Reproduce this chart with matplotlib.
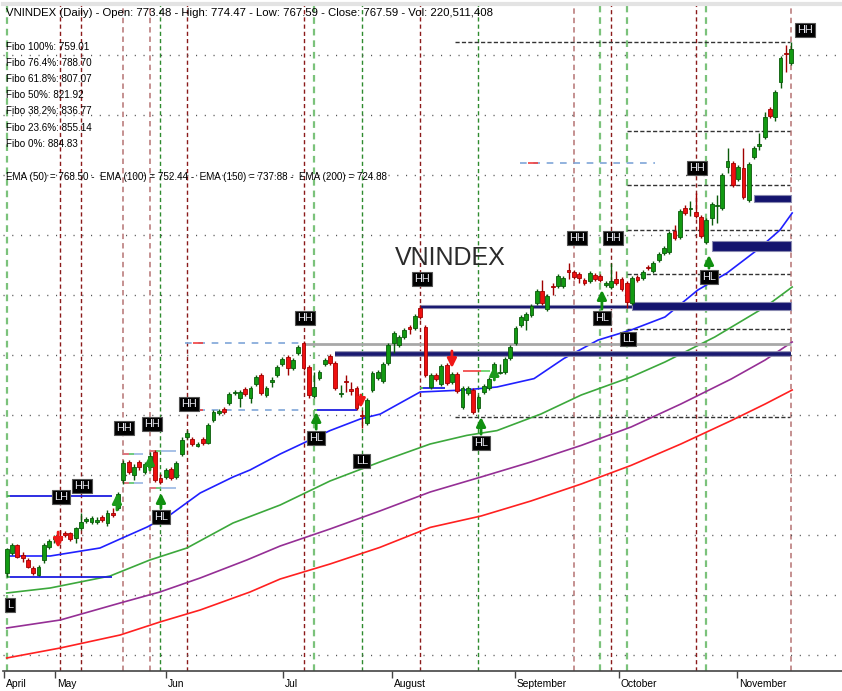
import matplotlib
matplotlib.use("Agg")
import matplotlib.pyplot as plt
from matplotlib import font_manager
from matplotlib.patches import Rectangle
from matplotlib.transforms import ScaledTranslation
import numpy as np

# daily candles (index points)
opens = [715.5, 720.5, 722.5, 720.0, 718.75, 716.75, 715.0, 718.75, 722.0, 724.0,
         724.75, 725.5, 725.5, 724.25, 726.75, 728.5, 728.25, 728.25, 729.5, 728.0,
         730.5, 731.75, 738.75, 743.25, 740.0, 743.25, 740.75, 742.0, 745.75, 739.25,
         739.5, 741.5, 739.5, 745.25, 749.5, 749.0, 747.25, 749.0, 748.0, 753.75,
         755.5, 756.5, 758.0, 760.5, 759.25, 761.5, 759.25, 762.75, 765.0, 760.0,
         763.25, 765.0, 767.75, 769.5, 766.75, 770.5, 773.0, 767.0, 759.75, 764.25,
         767.75, 769.75, 768.0, 760.25, 763.5, 761.5, 761.75, 755.0, 753.0, 761.25,
         764.25, 763.5, 768.0, 773.0, 772.5, 774.5, 777.0, 776.75, 781.75, 777.0,
         762.0, 765.0, 762.75, 767.5, 763.25, 765.25, 757.0, 760.5, 761.25, 756.75,
         760.75, 761.75, 764.5, 765.5, 765.75, 769.25, 773.0, 777.5, 778.75, 780.0,
         783.0, 786.0, 781.5, 787.25, 787.25, 787.25, 791.25, 790.75, 790.25, 788.75,
         788.5, 790.0, 789.75, 787.5, 787.0, 789.0, 789.0, 788.0, 783.0, 789.5,
         789.25, 792.0, 791.0, 793.75, 795.5, 795.75, 801.0, 799.5, 806.75, 806.5,
         805.75, 804.5, 798.25, 804.25, 807.25, 806.75, 817.0, 818.0, 814.0, 816.75,
         808.75, 819.5, 822.25, 824.5, 831.5, 829.5, 838.25, 845.5, 843.0]
highs = [721.75, 723.0, 722.75, 720.75, 719.25, 717.25, 717.5, 723.0, 724.0, 725.0,
         726.25, 726.0, 725.75, 727.0, 730.5, 729.5, 729.75, 729.5, 730.0, 731.25,
         731.75, 735.75, 743.75, 743.75, 742.75, 743.75, 743.25, 745.75, 746.25, 740.25,
         741.75, 742.0, 743.5, 749.5, 751.25, 749.5, 748.25, 749.5, 753.0, 756.25,
         756.5, 757.0, 760.75, 761.25, 761.25, 762.0, 762.25, 765.0, 765.5, 762.25,
         764.5, 767.5, 769.5, 770.0, 769.25, 772.5, 773.5, 767.5, 765.75, 766.25,
         769.25, 770.25, 768.5, 762.5, 765.0, 763.25, 762.25, 756.25, 759.25, 766.0,
         766.25, 768.25, 773.0, 776.0, 775.0, 776.75, 777.5, 780.25, 782.5, 777.5,
         765.5, 765.5, 767.75, 768.0, 765.75, 765.75, 762.25, 762.25, 761.75, 760.0,
         762.75, 764.5, 768.25, 767.75, 769.5, 772.5, 777.25, 780.0, 780.75, 782.75,
         786.5, 788.75, 785.25, 788.0, 790.25, 789.75, 793.0, 791.25, 790.75, 789.25,
         791.0, 790.5, 790.25, 788.5, 793.0, 791.0, 789.5, 788.5, 789.75, 790.0,
         791.25, 792.5, 793.5, 795.75, 797.25, 801.0, 802.5, 806.5, 807.5, 808.5,
         810.5, 805.0, 804.25, 808.25, 810.0, 815.5, 821.75, 818.5, 817.5, 821.75,
         818.25, 822.25, 825.5, 830.75, 832.0, 836.25, 844.75, 847.5, 848.25]
lows = [714.5, 720.0, 719.25, 718.25, 716.75, 715.0, 714.75, 718.0, 721.5, 723.0,
        723.0, 724.5, 723.5, 723.0, 726.25, 728.0, 727.75, 727.75, 728.25, 727.25,
        729.5, 731.25, 737.75, 740.25, 738.75, 741.25, 740.25, 741.25, 738.25, 737.75,
        739.0, 738.75, 739.0, 744.75, 749.0, 747.25, 747.0, 747.5, 747.75, 753.25,
        755.0, 755.25, 757.5, 760.0, 757.0, 759.75, 758.0, 762.25, 760.0, 759.5,
        762.0, 764.5, 767.25, 765.0, 766.25, 770.0, 766.25, 759.25, 759.25, 763.75,
        767.25, 767.5, 761.25, 759.5, 760.75, 760.0, 756.25, 751.75, 752.5, 760.75,
        763.75, 763.0, 767.5, 770.5, 772.0, 774.0, 775.25, 776.25, 779.0, 764.5,
        761.5, 763.5, 762.25, 762.5, 762.75, 760.5, 756.5, 760.0, 755.25, 755.75,
        760.25, 761.25, 763.75, 765.25, 765.25, 768.75, 772.5, 777.0, 776.25, 779.5,
        782.5, 782.5, 781.0, 785.0, 786.75, 786.75, 789.0, 789.0, 788.0, 787.5,
        788.0, 788.5, 788.25, 787.0, 786.5, 787.5, 786.0, 781.75, 782.5, 788.25,
        788.75, 791.25, 790.5, 793.25, 795.0, 795.25, 798.75, 799.0, 805.0, 804.75,
        804.25, 799.25, 797.75, 802.5, 803.0, 806.25, 815.5, 812.0, 813.5, 809.0,
        808.25, 819.0, 821.25, 824.0, 829.25, 828.5, 836.75, 840.75, 842.5]
closes = [721.5, 722.5, 719.5, 719.25, 717.0, 715.5, 717.0, 722.5, 723.5, 724.5,
          723.75, 725.0, 724.0, 726.75, 728.25, 729.0, 729.25, 728.75, 728.75, 730.5,
          730.0, 735.25, 743.0, 740.75, 742.0, 742.0, 742.75, 744.75, 738.75, 738.25,
          741.25, 739.25, 743.0, 748.75, 750.5, 747.75, 747.75, 748.0, 752.5, 755.75,
          756.0, 755.75, 760.25, 760.75, 760.75, 760.25, 761.75, 764.5, 760.5, 761.75,
          763.75, 767.0, 769.0, 766.75, 768.75, 772.0, 766.75, 760.0, 762.0, 765.75,
          768.75, 768.0, 761.75, 760.5, 763.25, 761.0, 756.75, 754.75, 758.75, 765.5,
          765.75, 767.75, 772.5, 775.5, 774.5, 776.25, 776.5, 779.75, 779.5, 765.0,
          765.0, 764.0, 767.25, 763.0, 765.25, 761.0, 761.75, 761.75, 755.75, 759.5,
          762.25, 764.0, 767.75, 765.75, 769.0, 772.0, 776.75, 779.5, 780.25, 782.25,
          786.0, 783.0, 784.75, 787.0, 789.75, 789.25, 790.75, 789.5, 789.25, 788.0,
          790.5, 789.0, 788.75, 788.0, 788.5, 788.0, 786.5, 783.25, 789.25, 788.75,
          790.75, 791.75, 793.0, 795.25, 796.75, 800.5, 799.25, 806.0, 805.5, 806.75,
          804.75, 799.75, 803.75, 807.75, 807.5, 815.0, 818.5, 812.5, 817.0, 809.5,
          817.75, 821.75, 822.75, 829.5, 829.75, 835.75, 844.25, 845.25, 846.5]

months = ['April', 'May', 'Jun', 'Jul', 'August', 'September', 'October', 'November']
month_pos = [-0.6, 9.1, 30.1, 52.1, 72.7, 95.9, 115.5, 137.8]

# moving averages (read at sample bars)
ema50_x = [0, 8.2, 17.6, 21.4, 26.5, 30.8, 36.5, 42.7, 45.9, 51.6, 61.0, 66.7, 70.5, 78.0,
           86.3, 92.5, 99.5, 105.1, 111.6, 117.8, 124.2, 130.4, 135.9, 141.6, 145.9, 148.2]
ema50_y = [719.75, 719.75, 721.75, 724.0, 727.0, 730.0, 735.5, 739.5, 741.25, 745.25, 751.1,
           754.0, 755.25, 760.75, 761.25, 762.0, 764.1, 769.1, 773.75, 776.25, 779.5, 786.25,
           790.5, 796.25, 801.25, 805.5]
ema100_x = [0, 8.2, 19.5, 27.0, 34.0, 42.7, 51.6, 61.0, 70.4, 79.9, 86.8, 92.5, 100.8,
            108.4, 117.8, 124.2, 133.6, 143.1, 148.2]
ema100_y = [710.5, 711.75, 714.75, 718.75, 721.75, 728.0, 732.5, 738.5, 743.25, 747.75,
            749.9, 751.1, 755.25, 760.0, 764.5, 768.25, 774.5, 782.0, 787.0]
ema150_x = [0, 10.1, 21.4, 28.9, 36.5, 45.3, 51.6, 61.0, 70.4, 79.9, 89.5, 98.9, 108.4,
            117.8, 127.2, 136.7, 143.1, 148.2]
ema150_y = [701.75, 703.75, 708.0, 710.75, 714.25, 718.75, 722.25, 726.5, 731.0, 735.75,
            739.5, 743.25, 747.4, 752.0, 757.75, 764.0, 768.75, 773.25]
ema200_x = [0, 10.1, 21.4, 28.9, 36.5, 45.9, 51.6, 61.0, 70.4, 79.9, 89.5, 98.9, 108.4,
            117.8, 127.2, 136.7, 143.1, 148.2]
ema200_y = [694.25, 696.75, 700.0, 703.25, 706.25, 710.75, 714.0, 717.75, 721.9, 726.9,
            729.75, 733.5, 737.75, 742.4, 747.75, 753.6, 757.75, 761.25]

# swing labels
swing_x = [0.6, 10.2, 14.2, 22.1, 27.4, 29.1, 34.4, 56.3, 58.4, 67.0, 78.4, 89.5,
           107.6, 114.4, 112.3, 117.2, 130.2, 132.5, 150.6]
swing_y = [707.5, 734.5, 737.25, 751.75, 752.75, 729.5, 757.75, 779.25, 749.25, 743.5,
           789.0, 748.0, 799.25, 799.25, 779.25, 774.0, 816.75, 789.5, 851.25]
swing_txt = ['L', 'LH', 'HH', 'HH', 'HH', 'HL', 'HH', 'HH', 'HL', 'LL', 'HH', 'HL',
             'HH', 'HH', 'HL', 'LL', 'HH', 'HL', 'HH']

# arrows under higher lows: bar, tip level
hl_bar = [29.1, 58.4, 89.5, 112.3, 132.5]
hl_tip = [735.5, 755.75, 754.5, 786.25, 795.0]
# buy / sell signal arrows: bar, start, end
buy_bar = [20.8, 27.0, 92.0]
buy_from = [731.25, 741.25, 763.75]
buy_to = [735.25, 745.0, 767.25]
sell_bar = [9.7, 66.8, 84.0]
sell_from = [725.75, 760.0, 771.0]
sell_to = [721.75, 756.75, 766.75]

# time cycle lines
cyc_green = [29, 67, 89]
cyc_green_lt = [0, 58, 112, 117, 132]
cyc_red = [10, 14, 34, 56, 78, 114, 130]
cyc_red_lt = [22, 27, 107, 148]

# fibonacci retracement
fib_low, fib_high = 754.5, 848.25
fib_ratio = [0.0, 0.236, 0.382, 0.5, 0.618, 0.764, 1.0]
fib_text = ['Fibo 100%: 759.01', 'Fibo 76.4%: 788.70', 'Fibo 61.8%: 807.07',
            'Fibo 50%: 821.92', 'Fibo 38.2%: 836.77', 'Fibo 23.6%: 855.14', 'Fibo 0%: 884.83']

# support / resistance zones: x0, x1, low, high
zone_x0 = [78.0, 118.0, 133.1, 141.0]
zone_x1 = [118.0, 148.0, 148.0, 148.0]
zone_lo = [781.75, 781.25, 796.0, 808.25]
zone_hi = [782.6, 783.25, 798.5, 810.0]
navy_level, navy_x0 = 770.25, 62.0
gray_level, gray_x0 = 772.75, 56.0

# pivot lines (blue)
piv_y = [734.75, 714.5, 756.25, 761.75]
piv_x0 = [0, 0, 57.9, 78.0]
piv_x1 = [19.9, 19.9, 66.1, 82.7]
# dashed pivot projections
dpiv_y = [818.0, 773.0, 756.25]
dpiv_x0 = [96.8, 33.6, 33.6]
dpiv_x1 = [122.3, 55.3, 55.3]
# small consolidation boxes: x0, x1, low, high
box_x0 = [21.9, 27.0]
box_x1 = [25.7, 31.9]
box_lo = [738.0, 736.75]
box_hi = [745.25, 746.0]
# short breakout line
brk_y, brk_x0, brk_x1 = 766.0, 86.0, 91.2

title = ("VNINDEX (Daily) - Open: 773.48 - High: 774.47 - Low: 767.59 - "
         "Close: 767.59 - Vol: 220,511,408")
ema_text = ("EMA (50) = 768.50 -  EMA (100) = 752.44 -  EMA (150) = 737.88 -  "
            "EMA (200) = 724.88")

# ---- fonts ----
names = {f.name for f in font_manager.fontManager.ttflist}
if 'Liberation Sans Narrow' in names:
    fam, fs, fs_t, fs_l, big = 'Liberation Sans Narrow', 9.0, 9.0, 9.0, 21
else:
    fam, fs, fs_t, fs_l, big = 'Liberation Sans', 7.4, 8.2, 7.1, 18
plt.rcParams['font.family'] = [fam, 'DejaVu Sans']

W, H = 842, 691
fig = plt.figure(figsize=(W / 100, H / 100), dpi=100, facecolor='white')
ax = fig.add_axes([3 / W, (H - 671) / H, 1 - 3 / W, (671 - 4) / H])
ax.set_xlim(-0.7, 157.6)
ax.set_ylim(691.0, 857.75)

# dotted horizontal grid
ax.set_yticks(np.arange(695, 846, 15))
ax.yaxis.grid(True, linestyle=(0, (0.8, 5.5)), color='#555555', linewidth=1.0, zorder=0)
ax.tick_params(axis='y', left=False, labelleft=False)

for s in ['left', 'right']:
    ax.spines[s].set_visible(False)
ax.spines['top'].set_color('#E3E3E3')
ax.spines['top'].set_linewidth(3)
ax.spines['bottom'].set_color('#444444')
ax.spines['bottom'].set_linewidth(1.2)

ax.set_xticks(month_pos)
ax.set_xticklabels(months, fontsize=fs, ha='left')
ax.tick_params(axis='x', length=5, width=1, color='#444444', pad=1)
off = ScaledTranslation(2 / 100, 0, fig.dpi_scale_trans)
for lab in ax.get_xticklabels():
    lab.set_transform(lab.get_transform() + off)

# cycle lines
dash = (0, (3, 2.2))
for c in cyc_green:
    ax.axvline(c, color='#2E8B2E', linestyle=dash, linewidth=1, zorder=1)
for c in cyc_green_lt:
    ax.axvline(c, color='#7BC27B', linestyle=dash, linewidth=1.6, zorder=1)
for c in cyc_red:
    ax.axvline(c, color='#8B1A1A', linestyle=dash, linewidth=1, zorder=1)
for c in cyc_red_lt:
    ax.axvline(c, color='#C08888', linestyle=dash, linewidth=1.3, zorder=1)

# fibonacci lines
for r in fib_ratio:
    lvl = fib_high - r * (fib_high - fib_low)
    x0 = 84.6 if r in (0.0, 1.0) else 117.0
    ax.hlines(lvl, x0, 147.8, color='#333333', linestyle=(0, (3, 1.6)), linewidth=1, zorder=2)

# moving averages
ax.plot(ema200_x, ema200_y, color='#FF2020', linewidth=1.2, zorder=3)
ax.plot(ema150_x, ema150_y, color='#952F95', linewidth=1.2, zorder=3)
ax.plot(ema100_x, ema100_y, color='#3CA83C', linewidth=1.2, zorder=3)
ax.plot(ema50_x, ema50_y, color='#2020FF', linewidth=1.2, zorder=3)

# levels
ax.hlines(gray_level, gray_x0, 148, color='#A8A8A8', linewidth=2, zorder=3)
ax.hlines(navy_level, navy_x0, 148, color='#9090B0', linewidth=4.2, zorder=3)
ax.hlines(navy_level, navy_x0, 148, color='#1A1A70', linewidth=2.6, zorder=3)
for x0, x1, lo, hi in zip(zone_x0, zone_x1, zone_lo, zone_hi):
    ax.add_patch(Rectangle((x0, lo), x1 - x0, hi - lo, facecolor='#14146E',
                           edgecolor='#8A8AB0', linewidth=0.8, zorder=3))
for y, x0, x1 in zip(piv_y, piv_x0, piv_x1):
    ax.hlines(y, x0, x1, color='#1E1EE0', linewidth=1.3, zorder=3)
    ax.hlines(y, x0, x0 + 0.6, color='#50C050', linewidth=1.3, zorder=3)
for y, x0, x1 in zip(dpiv_y, dpiv_x0, dpiv_x1):
    ax.hlines(y, x0, x1, color='#7FA6D8', linestyle=(0, (4, 4)), linewidth=1.2, zorder=3)
    ax.hlines(y, x0 + 1.5, x0 + 3.5, color='#F04040', linewidth=1.2, zorder=3)
for x0, x1, lo, hi in zip(box_x0, box_x1, box_lo, box_hi):
    for y in (lo, hi):
        ax.hlines(y, x0, x1, color='#8FB0E0', linewidth=1.1, zorder=3)
        ax.hlines(y, x0, x0 + 1.2, color='#F06060', linewidth=1.1, zorder=3)
        ax.hlines(y, x0 + 1.2, x0 + 2.2, color='#60D060', linewidth=1.1, zorder=3)
ax.hlines(brk_y, brk_x0, brk_x0 + 3.5, color='#F04040', linewidth=1.2, zorder=3)
ax.hlines(brk_y, brk_x0 + 3.5, brk_x1, color='#60D060', linewidth=1.2, zorder=3)

# candles
idx = np.arange(len(closes))
o = np.array(opens)
c = np.array(closes)
up = c >= o
col = np.where(up, '#129A12', '#EE1010')
edge = np.where(up, '#0A5A0A', '#A00000')
ax.vlines(idx, lows, highs, colors=edge, linewidth=1, zorder=4)
body_lo = np.minimum(o, c)
body_h = np.maximum(np.abs(c - o), 0.3)
ax.bar(idx, body_h, bottom=body_lo, width=0.72, color=col, edgecolor=edge,
       linewidth=0.6, zorder=5)

# signal arrows
def arrow(x, a, b, color):
    ax.annotate('', xy=(x, b), xytext=(x, a),
                arrowprops=dict(arrowstyle='-|>,head_length=0.9,head_width=0.45',
                                color=color, lw=2.0, shrinkA=0, shrinkB=0,
                                mutation_scale=6), zorder=6)

for x, a, b in zip(buy_bar, buy_from, buy_to):
    arrow(x, a, b, '#1A9A1A')
for x, a, b in zip(sell_bar, sell_from, sell_to):
    arrow(x, a, b, '#F01818')
for x, tip in zip(hl_bar, hl_tip):
    base = swing_y[swing_x.index(x)] + 2.2
    arrow(x, base, tip, '#109010')

# swing labels
for x, y, t in zip(swing_x, swing_y, swing_txt):
    ax.text(x, y, t, color='#E8E8F0', fontsize=fs + 0.5, ha='center', va='center',
            family=['Liberation Sans', 'DejaVu Sans'], zorder=8, clip_on=False,
            bbox=dict(boxstyle='square,pad=0.2', facecolor='black', edgecolor='#555555',
                      linewidth=0.8))

ax.text(83.6, 794.25, 'VNINDEX', fontsize=big, color='#2B2B2B', ha='center',
        va='center', zorder=2)

# header texts
fig.text(6 / W, 1 - 13 / H, title, fontsize=fs_t, color='black', va='center')
for k, t in enumerate(fib_text):
    fig.text(6 / W, 1 - (46.7 + 16.2 * k) / H, t, fontsize=fs_l, color='black', va='center')
fig.text(6 / W, 1 - 177 / H, ema_text, fontsize=fs_l, color='black', va='center')

fig.savefig('out.png', dpi=100, facecolor='white')
